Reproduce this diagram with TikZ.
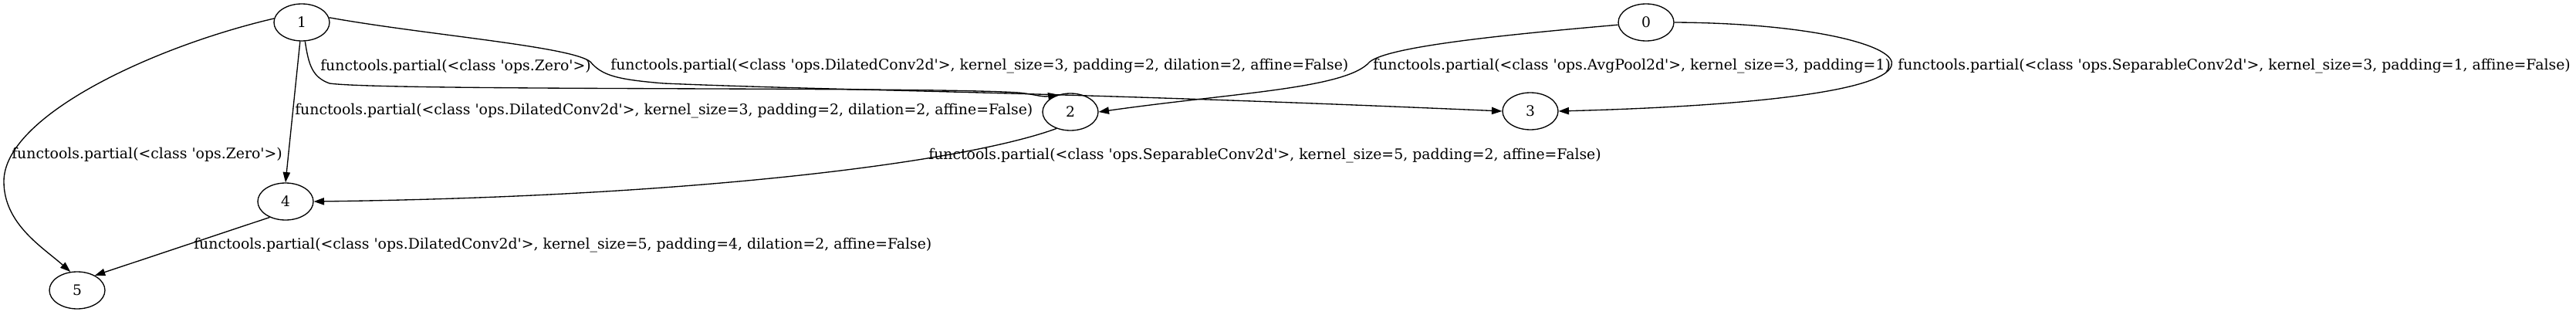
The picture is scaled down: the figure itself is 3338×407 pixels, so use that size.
\documentclass[tikz,border=0pt]{standalone}
\usepackage{fontspec}
\setmainfont{DejaVu Serif}
\usetikzlibrary{arrows.meta,shapes.geometric}
\newcommand{\sq}{\textquotesingle}
\begin{document}
\begin{tikzpicture}[x=0.75pt,y=-0.75pt,
  gnode/.style={draw,ellipse,line width=1pt,minimum width=54pt,minimum height=36pt,inner sep=0pt,font=\fontsize{14}{16}\selectfont},
  elabel/.style={anchor=west,inner sep=0pt,font=\fontsize{14.14}{16}\selectfont},
  edge/.style={line width=1pt,-{Triangle[length=10pt,width=7pt]}}]
\useasboundingbox (0,0) rectangle (3338,407);
\node[gnode] (n1) at (391,29) {1};
\node[gnode] (n0) at (2133,29) {0};
\node[gnode] (n2) at (1387,145) {2};
\node[gnode] (n3) at (1983,144) {3};
\node[gnode] (n4) at (370,261) {4};
\node[gnode] (n5) at (100,376) {5};
% labels
\node[elabel] (l12) at (415,86) {functools.partial(<class \sq ops.Zero\sq >)};
\node[elabel] (l13) at (791,86) {functools.partial(<class \sq ops.DilatedConv2d\sq >, kernel\_size=3, padding=2, dilation=2, affine=False)};
\node[elabel] (l02) at (1779,86) {functools.partial(<class \sq ops.AvgPool2d\sq >, kernel\_size=3, padding=1)};
\node[elabel] (l03) at (2459,86) {functools.partial(<class \sq ops.SeparableConv2d\sq >, kernel\_size=3, padding=1, affine=False)};
\node[elabel] (l14) at (382,144) {functools.partial(<class \sq ops.DilatedConv2d\sq >, kernel\_size=3, padding=2, dilation=2, affine=False)};
\node[elabel] (l15) at (15,200) {functools.partial(<class \sq ops.Zero\sq >)};
\node[elabel] (l24) at (1203,202) {functools.partial(<class \sq ops.SeparableConv2d\sq >, kernel\_size=5, padding=2, affine=False)};
\node[elabel] (l45) at (251,318) {functools.partial(<class \sq ops.DilatedConv2d\sq >, kernel\_size=5, padding=4, dilation=2, affine=False)};
% edges
\draw[edge] (n1.-80) .. controls (400,85) and (405,100) .. (427,108)
  .. controls (500,118) and (1200,112) .. (1320,120)
  .. controls (1340,122) and (1350,126) .. (n2.125);
\draw[edge] (n1.10) .. controls (550,45) and (740,60) .. (765,80)
  .. controls (780,98) and (800,103) .. (860,108)
  .. controls (1100,118) and (1350,118) .. (n3.west);
\draw[edge] (n1.-95) -- (n4.north);
\draw[edge] (n1.172) .. controls (200,60) and (5,150) .. (5,235)
  .. controls (5,290) and (55,320) .. (n5.110);
\draw[edge] (n4.-135) -- (n5.40);
\draw[edge] (n0.185) .. controls (1950,45) and (1800,60) .. (1775,80)
  .. controls (1745,115) and (1600,120) .. (n2.east);
\draw[edge] (n0.east) .. controls (2350,30) and (2460,60) .. (2451,85)
  .. controls (2440,120) and (2250,138) .. (n3.east);
\draw[edge] (n2.-130) .. controls (1250,210) and (900,255) .. (n4.east);
\end{tikzpicture}
\end{document}
